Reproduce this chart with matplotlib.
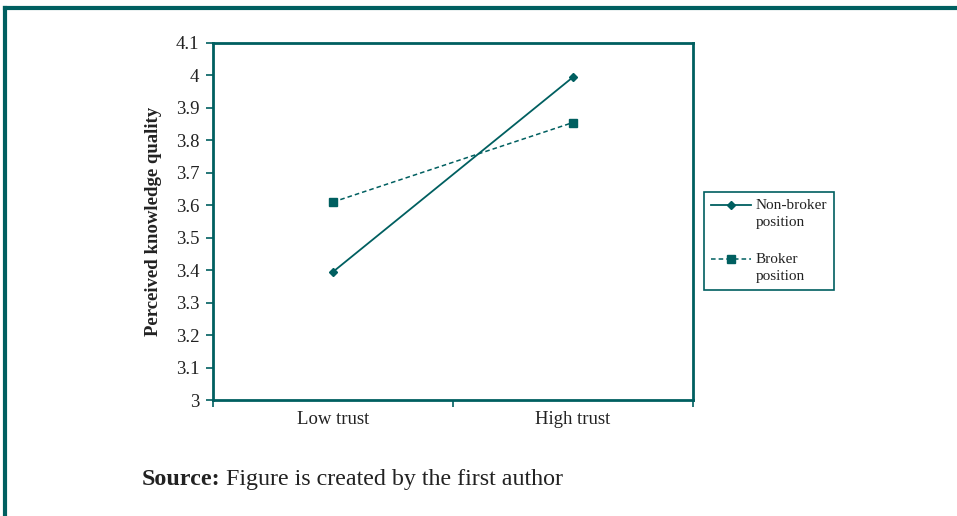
import matplotlib
matplotlib.use("Agg")
import matplotlib.pyplot as plt
from matplotlib.lines import Line2D
from matplotlib.legend_handler import HandlerLine2D
import numpy as np

categories = ["Low trust", "High trust"]
non_broker = [3.395, 3.995]
broker = [3.61, 3.855]
yticks = [3.0, 3.1, 3.2, 3.3, 3.4, 3.5, 3.6, 3.7, 3.8, 3.9, 4.0, 4.1]
ytick_labels = ["3", "3.1", "3.2", "3.3", "3.4", "3.5", "3.6", "3.7", "3.8", "3.9", "4", "4.1"]

teal = "#005f60"
plt.rcParams["font.family"] = ["Liberation Serif", "DejaVu Serif"]


class RaisedHandler(HandlerLine2D):
    def create_artists(self, legend, orig_handle, xdescent, ydescent, width, height, fontsize, trans):
        arts = super().create_artists(legend, orig_handle, xdescent, ydescent, width, height, fontsize, trans)
        for a in arts:
            a.set_ydata(np.asarray(a.get_ydata(), dtype=float) + 0.55 * fontsize)
        return arts


fig = plt.figure(figsize=(9.57, 5.16), dpi=100)
ax = fig.add_axes([0.2226, 0.2248, 0.5016, 0.6919])

x = np.arange(len(categories))
l1, = ax.plot(x, non_broker, color=teal, lw=1.3, marker="D", ms=4.5, label="Non-broker\nposition")
l2, = ax.plot(x, broker, color=teal, lw=1.1, ls=(0, (3, 2)), marker="s", ms=6, label="Broker\nposition")

ax.set_xlim(-0.5, 1.5)
ax.set_ylim(3.0, 4.1)
ax.set_yticks(yticks)
ax.set_yticklabels(ytick_labels, fontsize=13.5)
ax.set_xticks([-0.5, 0.5, 1.5])
ax.set_xticklabels([])
ax.set_xticks(x, minor=True)
ax.set_xticklabels(categories, minor=True, fontsize=13.5)
ax.tick_params(axis="x", which="minor", length=0, pad=8, colors="#222222")
ax.tick_params(axis="x", which="major", length=5, width=1.2, color=teal)
ax.tick_params(axis="y", length=5, width=1.2, color=teal, labelcolor="#222222", pad=5)
for s in ax.spines.values():
    s.set_color(teal)
    s.set_linewidth(2)

ax.set_ylabel("Perceived knowledge quality", fontsize=13.5, fontweight="bold", labelpad=10, color="#222222")

leg = ax.legend(loc="center left", bbox_to_anchor=(0.736, 0.533), bbox_transform=fig.transFigure,
                fancybox=False, edgecolor=teal, fontsize=11, handlelength=2.6,
                labelspacing=1.6, borderpad=0.45, borderaxespad=0, handletextpad=0.3, framealpha=1,
                handler_map={l1: RaisedHandler(), l2: RaisedHandler()})
leg.get_frame().set_linewidth(1.2)
for t in leg.get_texts():
    t.set_color("#222222")
    t.set_linespacing(1.4)

# outer frame lines
fig.add_artist(Line2D([0.005, 1.0], [0.984, 0.984], transform=fig.transFigure, color=teal, lw=3))
fig.add_artist(Line2D([0.005, 0.005], [0.0, 0.984], transform=fig.transFigure, color=teal, lw=3))

t1 = fig.text(0.148, 0.06, "Source:", fontsize=17.3, fontweight="bold", color="#222222")
fig.canvas.draw()
bb = t1.get_window_extent()
x2 = (bb.x1 + 6) / fig.bbox.width
fig.text(x2, 0.06, "Figure is created by the first author", fontsize=17.3, color="#222222")

fig.savefig("out.png", dpi=100)
